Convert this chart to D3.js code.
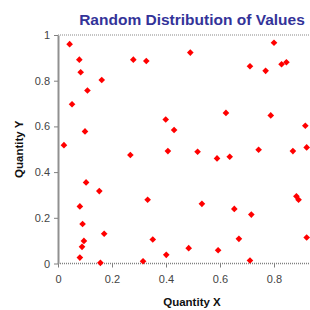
<!DOCTYPE html>
<html>
<head>
<meta charset="utf-8">
<script src="https://cdn.jsdelivr.net/npm/d3@7"></script>
<style>
  body { margin: 0; background: #fff; }
  svg { display: block; font-family: "Liberation Sans", Arial, sans-serif; }
</style>
</head>
<body>
<svg id="chart" width="310" height="310"></svg>
<script>
// values
const xValues = [0.043, 0.079, 0.084, 0.162, 0.109, 0.052, 0.100, 0.022, 0.279, 0.327,
  0.399, 0.430, 0.490, 0.800, 0.711, 0.769, 0.828, 0.846, 0.622, 0.788,
  0.916, 0.268, 0.407, 0.104, 0.153, 0.081, 0.332, 0.091, 0.171, 0.096,
  0.089, 0.351, 0.081, 0.157, 0.315, 0.401, 0.517, 0.589, 0.636, 0.743,
  0.870, 0.921, 0.533, 0.653, 0.716, 0.883, 0.891, 0.670, 0.921, 0.484,
  0.593, 0.711];
const yValues = [0.960, 0.892, 0.837, 0.803, 0.757, 0.697, 0.578, 0.518, 0.892, 0.886,
  0.630, 0.584, 0.923, 0.966, 0.863, 0.843, 0.872, 0.881, 0.659, 0.648,
  0.603, 0.475, 0.492, 0.355, 0.317, 0.250, 0.279, 0.173, 0.130, 0.099,
  0.073, 0.105, 0.026, 0.003, 0.010, 0.038, 0.489, 0.460, 0.467, 0.498,
  0.492, 0.508, 0.261, 0.239, 0.214, 0.294, 0.279, 0.108, 0.114, 0.067,
  0.058, 0.013];
const xTicks = [0, 0.2, 0.4, 0.6, 0.8];
const yTicks = [0, 0.2, 0.4, 0.6, 0.8, 1];

const points = xValues.map((x, i) => ({ x: x, y: yValues[i] }));

const svg = d3.select("#chart");
const margin = { left: 58, top: 35, bottom: 46 };
const plotRight = 328;   // plot area runs past the picture edge
const height = 310 - margin.bottom;

const x = d3.scaleLinear().domain([0, 1]).range([margin.left, plotRight]);
const y = d3.scaleLinear().domain([0, 1]).range([height - 0.5, margin.top]);

// top border of the plot area, dotted
svg.append("line")
    .attr("x1", margin.left).attr("x2", 310)
    .attr("y1", y(1)).attr("y2", y(1))
    .attr("stroke", "#b0b0b0")
    .attr("stroke-width", 1.5)
    .attr("stroke-dasharray", "1,1");

// x axis
const xAxis = svg.append("g")
    .attr("transform", `translate(0,${y(0)})`)
    .call(d3.axisBottom(x).tickValues(xTicks).tickSize(4).tickSizeOuter(0)
        .tickFormat(d => d === 0 ? "0" : d3.format(".1f")(d)));
xAxis.select(".domain")
    .attr("d", `M${margin.left},0H310`)
    .attr("stroke", "#808080")
    .attr("stroke-width", 1.5)
    .attr("stroke-dasharray", "1,1");
xAxis.selectAll(".tick line").attr("stroke", "#808080");
xAxis.selectAll(".tick text")
    .attr("y", 12)
    .attr("fill", "#444")
    .attr("font-size", "11px");

// y axis
const yAxis = svg.append("g")
    .attr("transform", `translate(${margin.left},0)`)
    .call(d3.axisLeft(y).tickValues(yTicks).tickSize(4).tickSizeOuter(0)
        .tickFormat(d => (d === 0 || d === 1) ? String(d) : d3.format(".1f")(d)));
yAxis.select(".domain")
    .attr("stroke", "#909090")
    .attr("stroke-width", 2);
yAxis.selectAll(".tick line").attr("stroke", "#808080");
yAxis.selectAll(".tick text")
    .attr("x", -8)
    .attr("fill", "#444")
    .attr("font-size", "11px");
svg.selectAll(".tick text").attr("font-family", "\"Liberation Sans\", Arial, sans-serif");

// markers
svg.append("g")
    .selectAll("path")
    .data(points)
    .join("path")
    .attr("d", d3.symbol(d3.symbolSquare, 22))
    .attr("transform", d => `translate(${x(d.x)},${y(d.y)}) rotate(45)`)
    .attr("fill", "#ff0000");

// labels
svg.append("text")
    .attr("x", 192).attr("y", 25)
    .attr("text-anchor", "middle")
    .attr("font-size", "15.5px")
    .attr("font-weight", "bold")
    .attr("fill", "#333399")
    .text("Random Distribution of Values");

svg.append("text")
    .attr("x", 192).attr("y", 306)
    .attr("text-anchor", "middle")
    .attr("font-size", "11.5px")
    .attr("font-weight", "bold")
    .attr("fill", "#111")
    .text("Quantity X");

svg.append("text")
    .attr("transform", `translate(23,${(y(0) + y(1)) / 2}) rotate(-90)`)
    .attr("text-anchor", "middle")
    .attr("font-size", "11.5px")
    .attr("font-weight", "bold")
    .attr("fill", "#111")
    .text("Quantity Y");
</script>
</body>
</html>
